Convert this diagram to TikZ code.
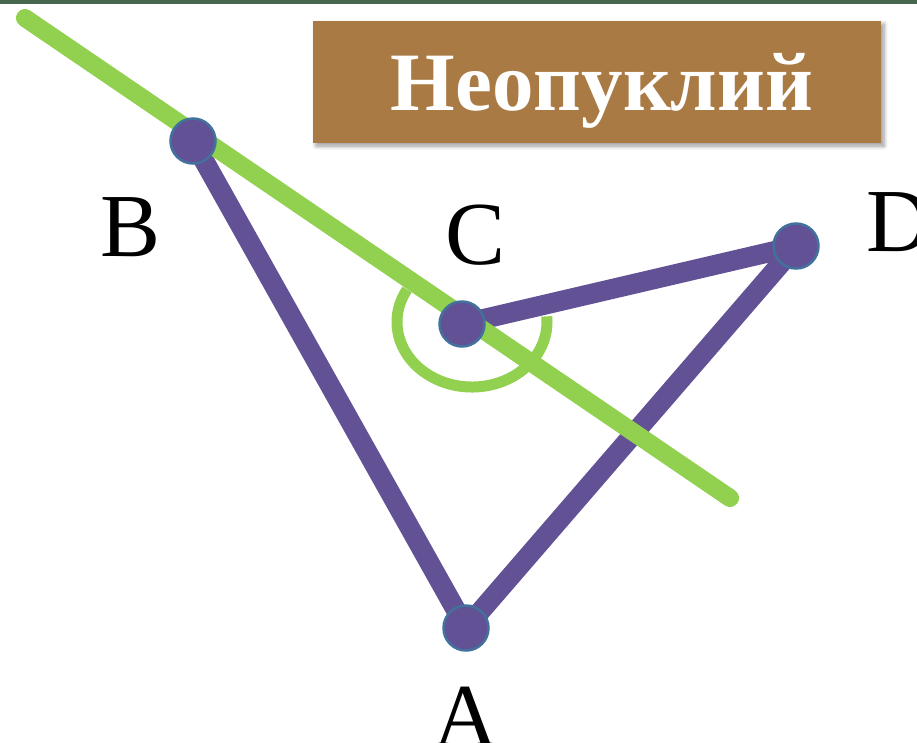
\documentclass[tikz,border=0pt]{standalone}
\usepackage{fontspec}
\setmainfont{Liberation Serif}
\usetikzlibrary{shadows.blur}
\definecolor{topgreen}{HTML}{46674D}
\definecolor{purp}{HTML}{635196}
\definecolor{lgreen}{HTML}{92D050}
\definecolor{brown}{HTML}{A97A44}
\definecolor{dotborder}{HTML}{41719C}
\tikzset{
  edge/.style={purp, line width=20pt, line join=round},
  thinedge/.style={purp, line width=1.5pt},
  dot/.style={circle, fill=purp, draw=dotborder, line width=2.5pt, minimum size=45pt, inner sep=0pt},
  lbl/.style={font=\fontsize{90}{90}\selectfont, inner sep=0pt},
}
\begin{document}
\begin{tikzpicture}[x=1pt,y=-1pt]
\useasboundingbox (0,0) rectangle (917,742);
\clip (0,0) rectangle (917,742);
\fill[topgreen] (0,0) rectangle (917,4);
% title
\node[fill=brown, minimum width=568pt, minimum height=122pt, inner sep=0pt,
      blur shadow={shadow xshift=3pt, shadow yshift=-3pt, shadow blur steps=6, shadow blur radius=4pt}]
      (title) at (597,82) {};
\node[anchor=base, text=white, font=\fontsize{83}{83}\selectfont\bfseries, inner sep=0pt]
      (titletext) at (602,110) {Неопуклий};
% points
\coordinate (pB) at (193,141);
\coordinate (pC) at (462,324);
\coordinate (pD) at (796,246);
\coordinate (pA) at (466,628);
\coordinate (g1) at (25,18);
\coordinate (g2) at (730,498);
% purple edges
\draw[edge] (pB) -- (pA) -- (pD) -- (pC);
\draw[thinedge] (pC) -- (pB);
% angle arc
\draw[lgreen, line width=11pt] (472,322) ++(150:75pt and 65pt) arc[start angle=150, end angle=365, x radius=75pt, y radius=65pt];
% green line
\draw[lgreen, line width=18pt, line cap=round] (g1) -- (g2);
% dots
\node[dot] (A) at (pA) {};
\node[dot] (B) at (pB) {};
\node[dot] (C) at (pC) {};
\node[dot] (D) at (pD) {};
% labels
\node[lbl] (lB) at (131,227) {B};
\node[lbl] (lC) at (476,235) {C};
\node[lbl] (lD) at (899,222) {D};
\node[lbl] (lA) at (466,717) {A};
\end{tikzpicture}
\end{document}
